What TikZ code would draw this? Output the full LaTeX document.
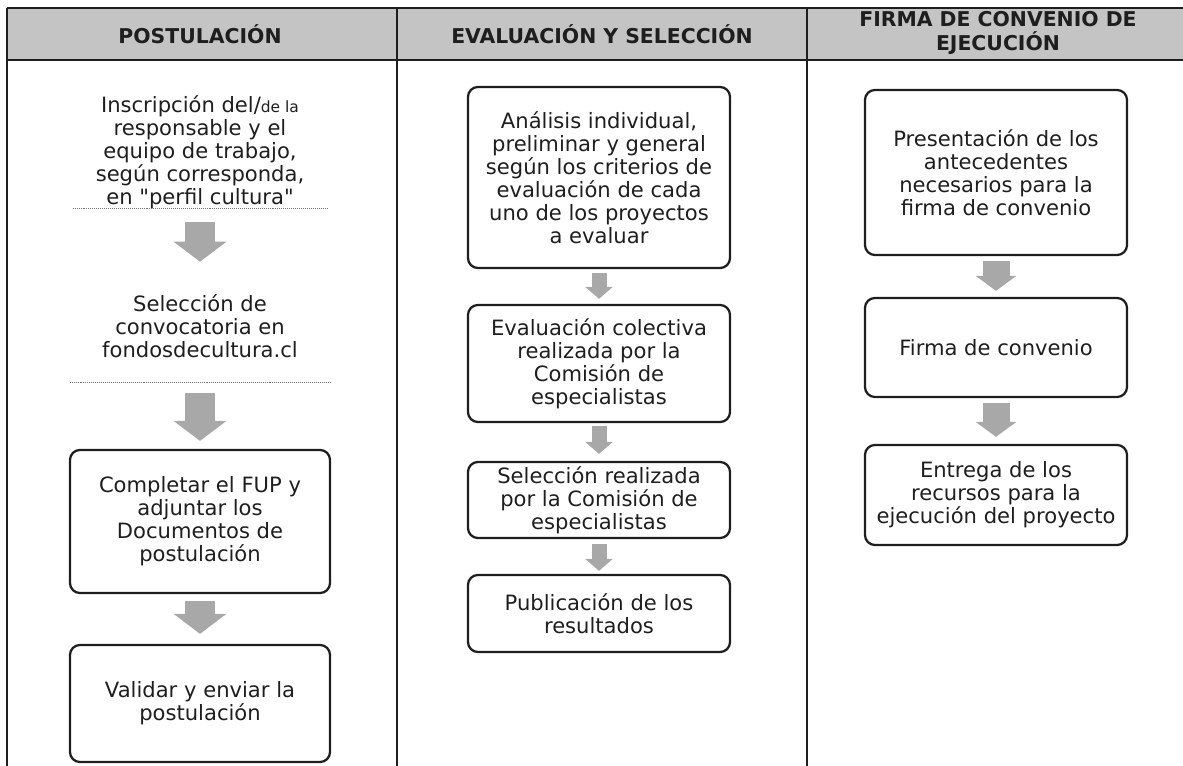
\documentclass[tikz,border=0pt]{standalone}
\usepackage{fontspec}
\setmainfont{DejaVu Sans}[Ligatures=TeXOff]
\usepackage{tikz}
\usetikzlibrary{positioning,arrows.meta}
\definecolor{HeadGray}{RGB}{196,196,196}
\definecolor{ArrGray}{RGB}{168,168,168}
\definecolor{InkGray}{RGB}{30,30,30}
\tikzset{rule/.style={draw=InkGray,line width=1.1pt}, sepline/.style={draw=black!55,line width=0.8pt,dash pattern=on 0.7pt off 0.7pt}, hd/.style={font=\bfseries\fontsize{14.5}{16.5}\selectfont,align=center,text=InkGray}, txt/.style={font=\fontsize{15}{16.3}\selectfont,align=center,text=InkGray,inner sep=0pt}, stepbox/.style={txt,draw=InkGray,line width=1.6pt,rounded corners=0.25cm,minimum width=6.55cm}, fatarrow/.style={-{Triangle[width=1.3cm,length=0.5cm]},line width=0.75cm,draw=ArrGray}, midarrow/.style={-{Triangle[width=1.0cm,length=0.375cm]},line width=0.675cm,draw=ArrGray}, thinarrow/.style={-{Triangle[width=0.675cm,length=0.3cm]},line width=0.375cm,draw=ArrGray}}

\begin{document}
\begin{tikzpicture}[x=0.025cm,y=-0.025cm]
\useasboundingbox (0,0) rectangle (1183,766);
\coordinate (tl) at (7,8);
\coordinate (hr) at (1183,60);
\fill[HeadGray] (tl) rectangle (hr);
\draw[rule] (7,8) -- (1183,8);
\draw[rule] (7,60) -- (1183,60);
\draw[rule] (7,8) -- (7,766);
\draw[rule] (397,8) -- (397,766);
\draw[rule] (807,8) -- (807,766);
\node[hd] (hpos) at (200,34) {POSTULACIÓN};
\node[hd] (heval) at (602,34) {EVALUACIÓN Y SELECCIÓN};
\node[hd] (hfirma) at (998,33) {FIRMA DE CONVENIO DE\\EJECUCIÓN};
\node[txt,minimum width=6.35cm,minimum height=2.75cm] (insc) at (200,152) {Inscripción del/{\fontsize{11}{12}\selectfont de la}\\responsable y el\\equipo de trabajo,\\según corresponda,\\en "perfil cultura"};
\node[txt,minimum width=6.5cm,minimum height=2.8cm] (selc) at (200,326) {Selección de\\convocatoria en\\fondosdecultura.cl};
\node[stepbox,minimum width=6.5cm,minimum height=3.575cm] (fup) at (200,521.5) {Completar el FUP y\\adjuntar los\\Documentos de\\postulación};
\node[stepbox,minimum width=6.5cm,minimum height=2.925cm] (valid) at (200,703.5) {Validar y enviar la\\postulación};
\draw[sepline] (insc.south west) -- (insc.south east);
\draw[sepline] (selc.south west) -- (selc.south east);
\draw[fatarrow,shorten <=0.325cm,shorten >=0.2cm] (insc) -- (selc);
\draw[fatarrow,shorten <=0.275cm,shorten >=0.2cm] (selc) -- (fup);
\draw[fatarrow,shorten <=0.175cm,shorten >=0.25cm] (fup) -- (valid);
\node[stepbox,minimum height=4.525cm] (anal) at (599,177.5) {Análisis individual,\\preliminar y general\\según los criterios de\\evaluación de cada\\uno de los proyectos\\a evaluar};
\node[stepbox,minimum height=2.925cm] (colec) at (599,363.5) {Evaluación colectiva\\realizada por la\\Comisión de\\especialistas};
\node[stepbox,minimum height=1.9cm] (selr) at (599,500) {Selección realizada\\por la Comisión de\\especialistas};
\node[stepbox,minimum height=1.925cm] (publ) at (599,613.5) {Publicación de los\\resultados};
\draw[thinarrow,shorten <=0.1cm,shorten >=0.125cm] (anal) -- (colec);
\draw[thinarrow,shorten <=0.075cm,shorten >=0.175cm] (colec) -- (selr);
\draw[thinarrow,shorten <=0.125cm,shorten >=0.075cm] (selr) -- (publ);
\node[stepbox,minimum height=4.125cm] (pres) at (996,172.5) {Presentación de los\\antecedentes\\necesarios para la\\firma de convenio};
\node[stepbox,minimum height=2.475cm] (firma) at (996,347.5) {Firma de convenio};
\node[stepbox,minimum height=2.5cm] (entr) at (996,495) {Entrega de los\\recursos para la\\ejecución del proyecto};
\draw[midarrow,shorten <=0.125cm,shorten >=0.15cm] (pres) -- (firma);
\draw[midarrow,shorten <=0.125cm,shorten >=0.175cm] (firma) -- (entr);
\end{tikzpicture}
\end{document}
